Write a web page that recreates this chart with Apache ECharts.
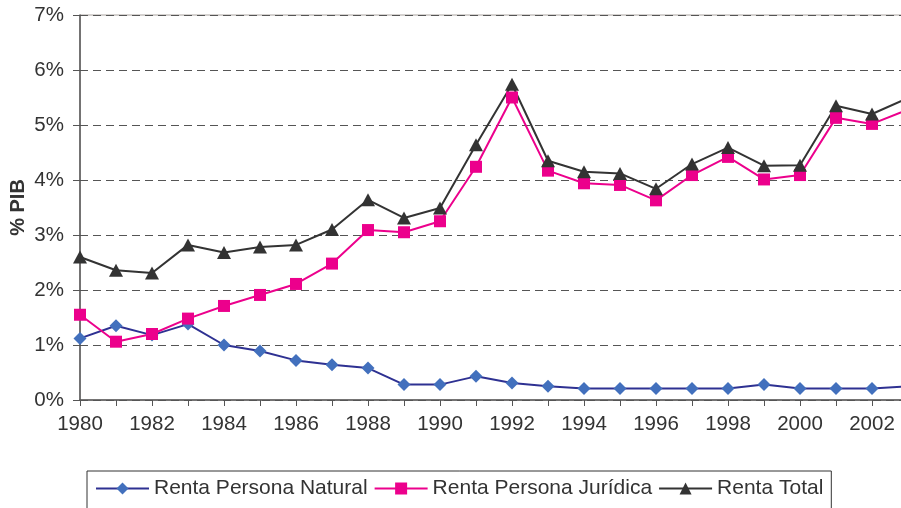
<!DOCTYPE html>
<html>
<head>
<meta charset="utf-8">
<script src="https://cdn.jsdelivr.net/npm/echarts@6/dist/echarts.min.js"></script>
<style>
  html, body { margin: 0; padding: 0; background: #fff; }
  #chart { width: 901px; height: 508px; }
</style>
</head>
<body>
<div id="chart"></div>
<script>
  // años 1980-2003 (el último queda cortado en el borde derecho)
  var years = ['1980','1981','1982','1983','1984','1985','1986','1987','1988','1989','1990','1991',
               '1992','1993','1994','1995','1996','1997','1998','1999','2000','2001','2002','2003'];
  var rentaNatural = [1.12, 1.35, 1.18, 1.38, 1.0, 0.89, 0.72, 0.64, 0.58, 0.28, 0.28, 0.43,
                      0.31, 0.25, 0.21, 0.21, 0.21, 0.21, 0.21, 0.28, 0.21, 0.21, 0.21, 0.25];
  var rentaJuridica = [1.55, 1.06, 1.2, 1.48, 1.71, 1.91, 2.11, 2.48, 3.09, 3.05, 3.25, 4.24,
                       5.5, 4.17, 3.94, 3.91, 3.63, 4.09, 4.42, 4.01, 4.09, 5.13, 5.02, 5.28];
  var rentaTotal = [2.6, 2.36, 2.31, 2.82, 2.68, 2.78, 2.82, 3.1, 3.64, 3.31, 3.49, 4.64,
                    5.74, 4.35, 4.15, 4.12, 3.84, 4.29, 4.59, 4.26, 4.27, 5.35, 5.2, 5.49];
  var seriesNames = ['Renta Persona Natural', 'Renta Persona Jurídica', 'Renta Total'];

  var font = 'Liberation Sans, Arial, sans-serif';
  var myChart = echarts.init(document.getElementById('chart'));
  var option = {
    animation: false,
    textStyle: { fontFamily: font },
    grid: {
      left: 80,
      top: 15,
      bottom: 108,
      right: -7,
      outerBoundsMode: 'none',
      containLabel: false,
      show: true,
      borderColor: '#aaa4a0',
      borderWidth: 1
    },
    legend: {
      left: 87,
      top: 471,
      padding: [7, 8, 10, 8],
      itemGap: 6,
      itemWidth: 53,
      itemHeight: 15,
      borderColor: '#333',
      borderWidth: 1,
      textStyle: { fontSize: 21, color: '#333', fontFamily: font },
      data: seriesNames
    },
    xAxis: {
      type: 'category',
      boundaryGap: false,
      data: years,
      axisLine: { lineStyle: { color: '#555', width: 1.5 } },
      axisTick: { interval: 0, length: 6, lineStyle: { color: '#555' } },
      axisLabel: { interval: 1, margin: 14, fontSize: 20.5, color: '#333', fontFamily: font },
      splitLine: { show: false }
    },
    yAxis: {
      type: 'value',
      min: 0,
      max: 7,
      interval: 1,
      name: '% PIB',
      nameLocation: 'middle',
      nameGap: 52,
      nameMoveOverlap: false,
      nameTextStyle: { fontSize: 20, fontWeight: 'bold', color: '#333', fontFamily: font },
      axisLine: { show: true, lineStyle: { color: '#555', width: 1.5 } },
      axisTick: { show: true, length: 7, lineStyle: { color: '#555' } },
      axisLabel: {
        margin: 16,
        fontSize: 20.5,
        color: '#333',
        fontFamily: font,
        formatter: function (v) { return v + '%'; }
      },
      splitLine: { lineStyle: { color: '#555', type: [8, 5], width: 1 } }
    },
    series: []
  };
  option.series[0] = {
    name: seriesNames[0],
    type: 'line',
    data: rentaNatural,
    symbol: 'diamond',
    symbolSize: 13,
    lineStyle: { color: '#2E3192', width: 2 },
    itemStyle: { color: '#4270BD' }
  };
  option.series[1] = {
    name: seriesNames[1],
    type: 'line',
    data: rentaJuridica,
    symbol: 'rect',
    symbolSize: 12,
    lineStyle: { color: '#EC008C', width: 2 },
    itemStyle: { color: '#EC008C' }
  };
  option.series[2] = {
    name: seriesNames[2],
    type: 'line',
    data: rentaTotal,
    symbol: 'triangle',
    symbolSize: [14, 13],
    lineStyle: { color: '#333333', width: 2 },
    itemStyle: { color: '#333333' }
  };
  myChart.setOption(option);
</script>
</body>
</html>
